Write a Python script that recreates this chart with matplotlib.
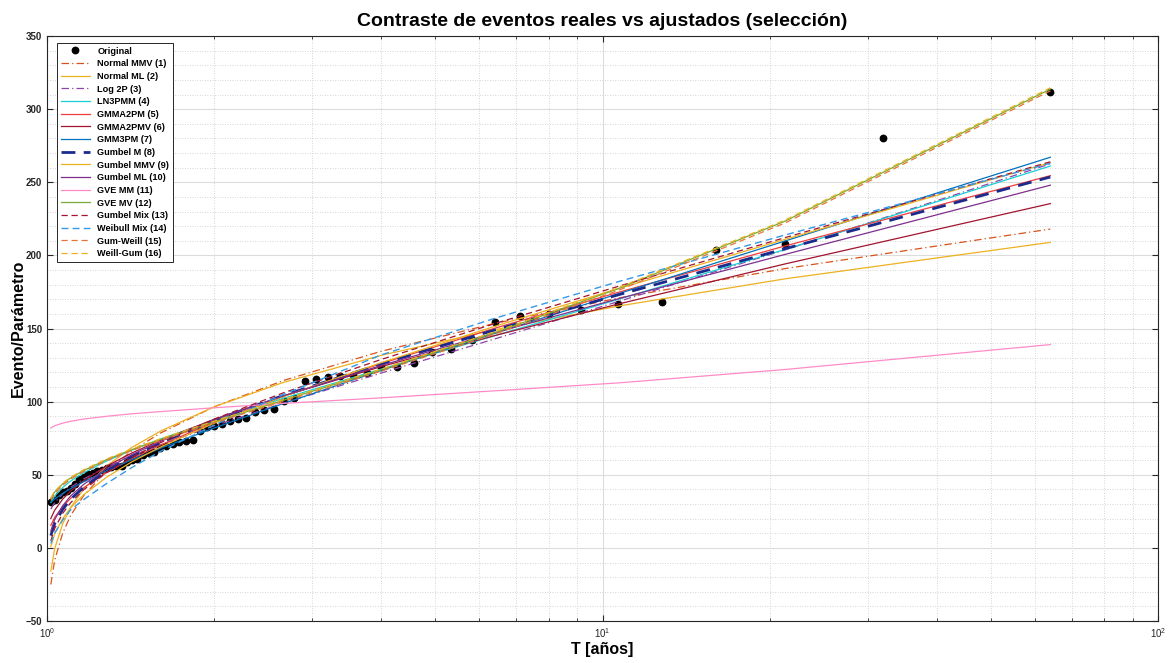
import matplotlib
matplotlib.use("Agg")
import matplotlib.pyplot as plt
from matplotlib.ticker import MultipleLocator, LogLocator, NullFormatter

plt.rcParams["font.family"] = ["Liberation Sans", "DejaVu Sans"]

# observed events (sorted, descending) and their return periods T
T_obs = [64.000, 32.000, 21.333, 16.000, 12.800, 10.667, 9.143, 8.000, 7.111, 6.400,
         5.818, 5.333, 4.923, 4.571, 4.267, 4.000, 3.765, 3.556, 3.368, 3.200,
         3.048, 2.909, 2.783, 2.667, 2.560, 2.462, 2.370, 2.286, 2.207, 2.133,
         2.065, 2.000, 1.939, 1.882, 1.829, 1.778, 1.730, 1.684, 1.641, 1.600,
         1.561, 1.524, 1.488, 1.455, 1.422, 1.391, 1.362, 1.333, 1.306, 1.280,
         1.255, 1.231, 1.208, 1.185, 1.164, 1.143, 1.123, 1.103, 1.085, 1.067,
         1.049, 1.032, 1.016]
evento = [312.0, 280.0, 208.0, 204.0, 168.0, 167.0, 162.5, 160.0, 158.7, 154.2,
          142.1, 136.2, 133.9, 126.2, 124.0, 123.5, 119.4, 118.3, 117.8, 116.6,
          115.7, 114.2, 102.3, 100.4, 95.0, 94.5, 93.1, 89.0, 88.3, 87.0,
          84.7, 83.3, 82.4, 80.0, 73.6, 73.1, 72.2, 70.8, 69.7, 68.5,
          65.8, 64.7, 63.5, 61.1, 60.1, 58.9, 56.2, 56.0, 55.1, 54.5,
          53.5, 52.5, 51.5, 50.3, 48.7, 47.3, 43.7, 40.9, 39.0, 38.4,
          36.0, 33.0, 31.6]

# return periods where the fitted curves were read
T_fit = [1.016, 1.032, 1.067, 1.103, 1.164, 1.280, 1.422, 1.600, 2.000, 2.667,
         4.000, 6.400, 10.667, 21.333, 64.000]

normal_mmv  = [-25.0, -8.6, 10.0, 22.2, 35.7, 52.7, 66.4, 78.5, 96.5, 114.5, 134.5, 153.5, 170.8, 191.0, 218.0]
normal_ml   = [-15.9, -0.7, 16.4, 27.7, 40.2, 56.0, 68.7, 79.8, 96.5, 113.2, 131.7, 149.2, 165.3, 184.0, 208.9]
log_2p      = [26.5, 31.0, 36.9, 41.4, 47.1, 55.3, 62.9, 70.5, 83.5, 99.0, 119.6, 142.9, 168.4, 203.8, 262.6]
ln3pmm      = [31.0, 35.4, 41.3, 45.7, 51.3, 59.4, 66.9, 74.4, 87.2, 102.3, 122.3, 145.1, 169.9, 204.1, 261.1]
gmma2pm     = [15.4, 20.8, 28.2, 33.9, 41.1, 51.5, 61.0, 70.3, 85.9, 103.7, 126.1, 150.2, 174.7, 206.5, 254.5]
gmma2pmv    = [20.1, 25.7, 33.3, 38.9, 46.0, 55.9, 64.9, 73.6, 87.9, 104.0, 124.0, 145.2, 166.7, 194.2, 235.4]
gmm3pm      = [31.2, 33.4, 37.2, 40.5, 45.2, 52.8, 60.3, 68.1, 82.0, 98.8, 121.4, 146.7, 173.7, 209.9, 267.1]
gumbel_m    = [8.4, 16.5, 26.3, 33.2, 41.5, 52.7, 62.6, 71.9, 87.2, 104.3, 125.9, 149.0, 173.0, 204.6, 253.6]
gumbel_mmv  = [0.9, 9.5, 20.0, 27.4, 36.3, 48.3, 58.9, 68.9, 85.3, 103.6, 126.7, 151.5, 177.2, 211.0, 263.5]
gumbel_ml   = [11.6, 19.3, 28.8, 35.5, 43.4, 54.2, 63.8, 72.8, 87.6, 104.0, 124.8, 147.1, 170.3, 200.7, 248.0]
gve_mm      = [82.0, 83.5, 85.3, 86.6, 88.1, 90.0, 91.7, 93.2, 95.8, 98.8, 102.6, 107.4, 112.8, 122.0, 139.0]
gve_mv      = [33.8, 38.1, 43.7, 47.8, 52.9, 60.3, 67.2, 74.1, 86.2, 101.0, 121.8, 147.2, 177.2, 223.5, 313.7]
gumbel_mix  = [4.7, 13.2, 23.6, 30.9, 39.7, 51.5, 62.0, 71.9, 88.1, 106.1, 128.9, 153.4, 178.8, 212.2, 264.0]
weibull_mix = [3.0, 10.0, 19.0, 26.0, 33.0, 44.0, 55.0, 66.0, 84.0, 105.0, 132.0, 157.0, 182.0, 214.0, 263.0]
gum_weill   = [32.5, 37.0, 42.8, 47.0, 52.2, 59.7, 66.6, 73.4, 85.5, 100.2, 120.9, 146.2, 176.0, 222.2, 312.5]
weill_gum   = [34.3, 38.6, 44.2, 48.3, 53.4, 60.8, 67.7, 74.6, 86.7, 101.5, 122.3, 147.8, 177.8, 224.2, 314.6]

curves = [
    ("Normal MMV (1)", normal_mmv,  "#D95319", "-.", 0.9),
    ("Normal ML (2)",  normal_ml,   "#EDB120", "-",  0.9),
    ("Log 2P (3)",     log_2p,      "#8E44A8", "-.", 0.9),
    ("LN3PMM (4)",     ln3pmm,      "#16D0D4", "-",  0.9),
    ("GMMA2PM (5)",    gmma2pm,     "#F03C3C", "-",  0.9),
    ("GMMA2PMV (6)",   gmma2pmv,    "#A2142F", "-",  0.9),
    ("GMM3PM (7)",     gmm3pm,      "#0072BD", "-",  0.9),
    ("Gumbel M (8)",   gumbel_m,    "#1A2B8C", "--", 2.0),
    ("Gumbel MMV (9)", gumbel_mmv,  "#EDB120", "-",  0.9),
    ("Gumbel ML (10)", gumbel_ml,   "#7E2F8E", "-",  0.9),
    ("GVE MM (11)",    gve_mm,      "#FF8AC8", "-",  0.9),
    ("GVE MV (12)",    gve_mv,      "#77AC30", "-",  0.9),
    ("Gumbel Mix (13)", gumbel_mix, "#A2142F", "--", 0.9),
    ("Weibull Mix (14)", weibull_mix, "#3399E6", "--", 1.0),
    ("Gum-Weill (15)", gum_weill,   "#E8743B", "--", 0.9),
    ("Weill-Gum (16)", weill_gum,   "#EDB120", "--", 0.9),
]

fig = plt.figure(figsize=(11.69, 6.63), dpi=100)
ax = fig.add_axes([0.0402, 0.0633, 0.9504, 0.8824])

ax.plot(T_obs, evento, "o", color="black", markersize=4.6, label="Original")
for label, vals, color, ls, lw in curves:
    if ls == "--":
        ax.plot(T_fit, vals, color=color, linestyle=(0, (5, 3)), linewidth=lw, label=label)
    elif ls == "-.":
        ax.plot(T_fit, vals, color=color, linestyle=(0, (6, 2.5, 1, 2.5)), linewidth=lw, label=label)
    else:
        ax.plot(T_fit, vals, color=color, linestyle=ls, linewidth=lw, label=label)

ax.set_xscale("log")
ax.set_xlim(1, 100)
ax.set_ylim(-50, 350)
ax.set_yticks(range(-50, 351, 50))
ax.yaxis.set_minor_locator(MultipleLocator(10))
ax.xaxis.set_minor_locator(LogLocator(base=10, subs=range(2, 10)))
ax.xaxis.set_minor_formatter(NullFormatter())

ax.grid(True, which="major", color="#dcdcdc", linewidth=0.8, linestyle="-")
ax.grid(True, which="minor", color="#c8c8c8", linewidth=0.6, linestyle=(0, (1, 2)))
ax.set_axisbelow(True)

ax.tick_params(which="both", direction="in", top=True, right=True, colors="#262626")
ax.tick_params(which="major", length=4, labelsize=7)
ax.tick_params(axis="x", which="minor", length=2.5)
ax.tick_params(axis="y", which="minor", length=0)
for lab in ax.get_yticklabels():
    lab.set_fontweight("bold")
for sp in ax.spines.values():
    sp.set_color("#262626")
    sp.set_linewidth(0.8)

ax.set_title("Contraste de eventos reales vs ajustados (selección)",
             fontsize=14, fontweight="bold", pad=7)
ax.set_xlabel("T [años]", fontsize=11.5, fontweight="bold", labelpad=2)
ax.set_ylabel("Evento/Parámetro", fontsize=11.5, fontweight="bold", labelpad=0)

leg = ax.legend(loc="upper left", bbox_to_anchor=(0.009, 0.988), borderaxespad=0,
                handlelength=3.2, labelspacing=0.4, frameon=True,
                fancybox=False, edgecolor="#262626", framealpha=1,
                prop={"weight": "bold", "size": 6.6})
leg.get_frame().set_linewidth(0.7)

fig.savefig("out.png", dpi=100)
